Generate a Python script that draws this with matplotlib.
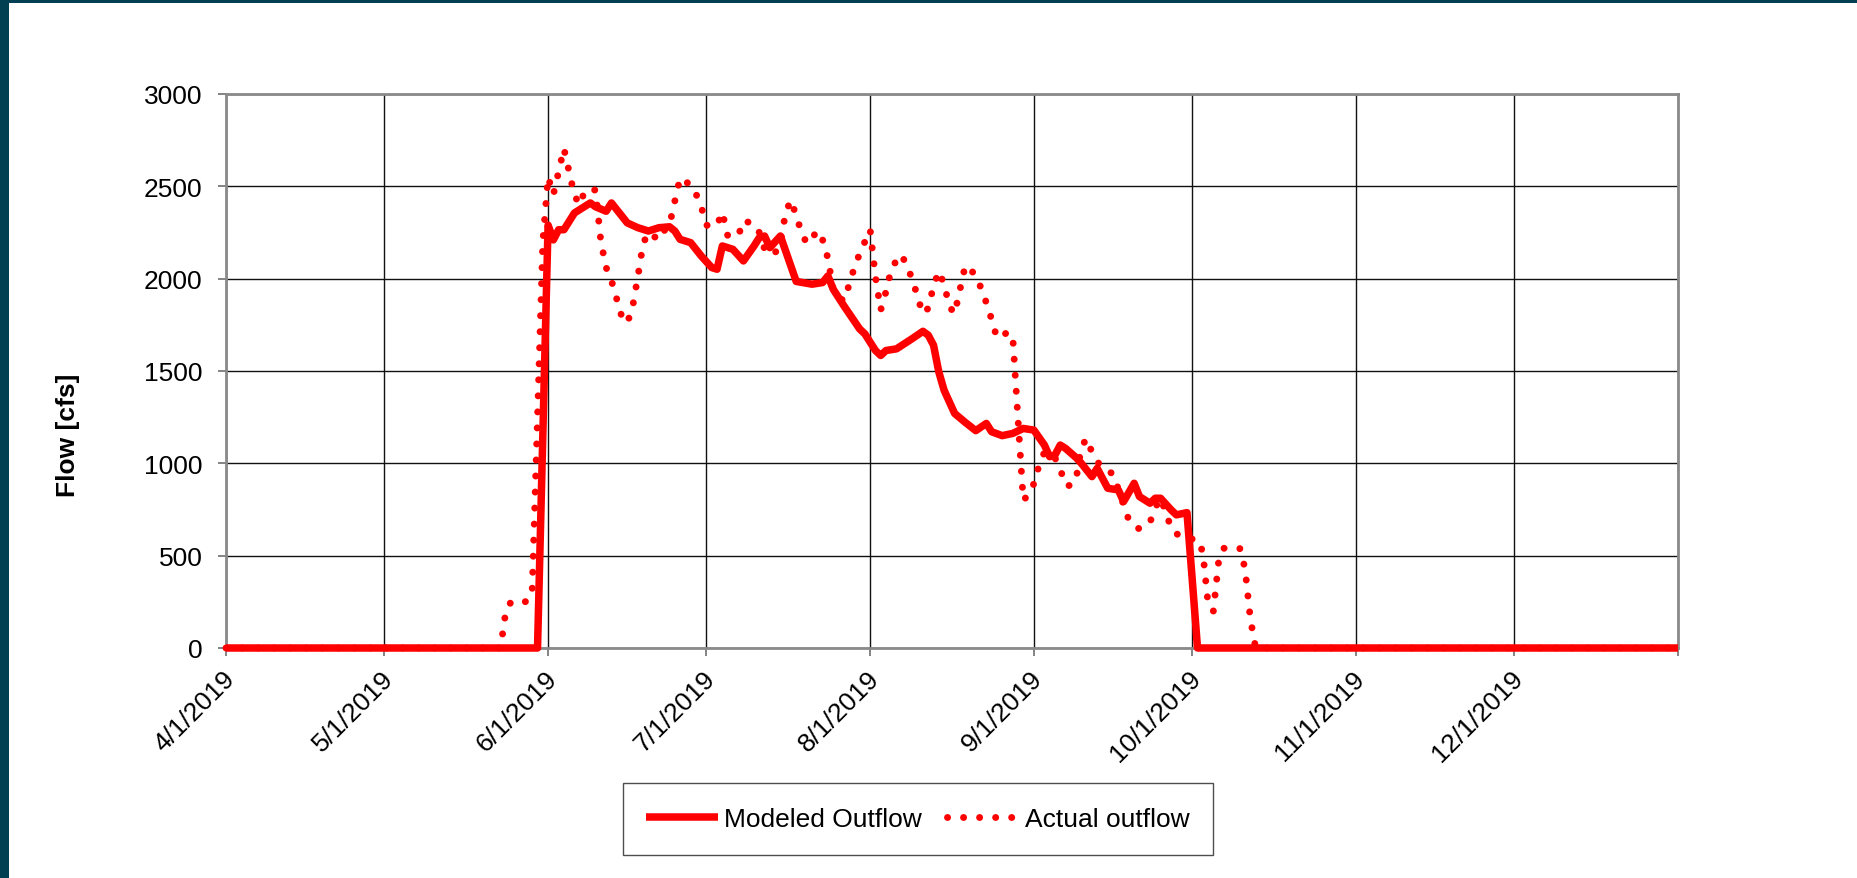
import matplotlib
matplotlib.use("Agg")
import matplotlib.pyplot as plt
import matplotlib.transforms as mtransforms
from matplotlib.patches import Rectangle
import pandas as pd

plt.rcParams["font.family"] = ["Liberation Sans", "DejaVu Sans"]

# modeled outflow (cfs)
model_dates = ["2019-04-01", "2019-05-30", "2019-05-31", "2019-06-01", "2019-06-02", "2019-06-03",
               "2019-06-04", "2019-06-06", "2019-06-09", "2019-06-10", "2019-06-12", "2019-06-13",
               "2019-06-14", "2019-06-16", "2019-06-18", "2019-06-20", "2019-06-22", "2019-06-24",
               "2019-06-25", "2019-06-26", "2019-06-28", "2019-06-30", "2019-07-02", "2019-07-03",
               "2019-07-04", "2019-07-06", "2019-07-08", "2019-07-10", "2019-07-11", "2019-07-12",
               "2019-07-13", "2019-07-15", "2019-07-18", "2019-07-21", "2019-07-23", "2019-07-24",
               "2019-07-25", "2019-07-27", "2019-07-30", "2019-07-31", "2019-08-02", "2019-08-03",
               "2019-08-04", "2019-08-06", "2019-08-09", "2019-08-11", "2019-08-12", "2019-08-13",
               "2019-08-14", "2019-08-15", "2019-08-17", "2019-08-19", "2019-08-21", "2019-08-23",
               "2019-08-24", "2019-08-26", "2019-08-28", "2019-08-30", "2019-09-01", "2019-09-03",
               "2019-09-04", "2019-09-05", "2019-09-06", "2019-09-07", "2019-09-09", "2019-09-10",
               "2019-09-12", "2019-09-13", "2019-09-15", "2019-09-17", "2019-09-18", "2019-09-20",
               "2019-09-21", "2019-09-23", "2019-09-24", "2019-09-25", "2019-09-27", "2019-09-28",
               "2019-09-30", "2019-10-01", "2019-10-02", "2020-01-01"]
model_flow = [0, 0, 1150, 2290, 2210, 2265,
              2265, 2356, 2410, 2389, 2365, 2410,
              2374, 2302, 2276, 2258, 2276, 2281,
              2258, 2213, 2195, 2123, 2060, 2051,
              2177, 2159, 2096, 2177, 2222, 2231,
              2168, 2231, 1985, 1970, 1979, 2015,
              1943, 1854, 1728, 1701, 1611, 1584,
              1611, 1620, 1676, 1715, 1694, 1640,
              1495, 1396, 1270, 1222, 1177, 1216,
              1171, 1150, 1162, 1189, 1180, 1099,
              1036, 1045, 1099, 1081, 1031, 1000,
              928, 973, 865, 856, 793, 892,
              820, 784, 811, 811, 748, 721,
              733, 370, 0, 0]

# actual outflow (daily gauge) (cfs)
actual_dates = ["2019-04-01", "2019-05-23", "2019-05-24", "2019-05-25", "2019-05-28", "2019-05-29",
                "2019-05-30", "2019-05-31", "2019-06-01", "2019-06-02", "2019-06-04", "2019-06-06",
                "2019-06-07", "2019-06-08", "2019-06-10", "2019-06-11", "2019-06-12", "2019-06-13",
                "2019-06-14", "2019-06-15", "2019-06-16", "2019-06-17", "2019-06-18", "2019-06-19",
                "2019-06-20", "2019-06-21", "2019-06-22", "2019-06-23", "2019-06-24", "2019-06-25",
                "2019-06-26", "2019-06-27", "2019-06-28", "2019-06-29", "2019-06-30", "2019-07-01",
                "2019-07-02", "2019-07-03", "2019-07-04", "2019-07-05", "2019-07-06", "2019-07-07",
                "2019-07-08", "2019-07-09", "2019-07-10", "2019-07-11", "2019-07-12", "2019-07-13",
                "2019-07-14", "2019-07-15", "2019-07-16", "2019-07-17", "2019-07-18", "2019-07-19",
                "2019-07-20", "2019-07-21", "2019-07-22", "2019-07-23", "2019-07-24", "2019-07-25",
                "2019-07-26", "2019-07-27", "2019-07-28", "2019-07-29", "2019-07-30", "2019-07-31",
                "2019-08-01", "2019-08-02", "2019-08-03", "2019-08-04", "2019-08-05", "2019-08-06",
                "2019-08-07", "2019-08-08", "2019-08-09", "2019-08-10", "2019-08-11", "2019-08-12",
                "2019-08-13", "2019-08-14", "2019-08-15", "2019-08-16", "2019-08-17", "2019-08-18",
                "2019-08-19", "2019-08-20", "2019-08-21", "2019-08-22", "2019-08-23", "2019-08-24",
                "2019-08-25", "2019-08-26", "2019-08-27", "2019-08-28", "2019-08-29", "2019-08-30",
                "2019-08-31", "2019-09-01", "2019-09-02", "2019-09-03", "2019-09-04", "2019-09-05",
                "2019-09-06", "2019-09-07", "2019-09-08", "2019-09-09", "2019-09-10", "2019-09-11",
                "2019-09-12", "2019-09-13", "2019-09-14", "2019-09-15", "2019-09-16", "2019-09-17",
                "2019-09-18", "2019-09-19", "2019-09-20", "2019-09-21", "2019-09-22", "2019-09-23",
                "2019-09-24", "2019-09-25", "2019-09-26", "2019-09-27", "2019-09-28", "2019-09-29",
                "2019-09-30", "2019-10-01", "2019-10-02", "2019-10-03", "2019-10-04", "2019-10-05",
                "2019-10-06", "2019-10-07", "2019-10-10", "2019-10-11", "2019-10-12", "2019-10-13",
                "2020-01-01"]
actual_flow = [0, 0, 200, 251, 251, 320,
               1250, 2200, 2550, 2455, 2705, 2450,
               2400, 2480, 2480, 2200, 2060, 1990,
               1890, 1790, 1760, 1845, 2010, 2190,
               2250, 2230, 2210, 2260, 2290, 2420,
               2545, 2525, 2510, 2460, 2390, 2290,
               2280, 2290, 2360, 2235, 2230, 2230,
               2315, 2305, 2295, 2250, 2160, 2130,
               2140, 2190, 2360, 2425, 2340, 2250,
               2190, 2220, 2260, 2210, 2110, 1940,
               1900, 1880, 1965, 2060, 2135, 2200,
               2265, 2010, 1830, 1930, 2050, 2100,
               2130, 2060, 2000, 1897, 1810, 1840,
               1960, 2040, 1970, 1850, 1810, 1940,
               2070, 2050, 2015, 1950, 1870, 1780,
               1680, 1690, 1710, 1690, 1240, 800,
               830, 890, 990, 1060, 1060, 1030,
               970, 880, 880, 914, 1087, 1135,
               1060, 1010, 975, 960, 942, 860,
               775, 692, 660, 645, 660, 680,
               760, 811, 735, 649, 620, 598,
               595, 590, 588, 520, 240, 200,
               470, 540, 540, 430, 160, 0,
               0]

tick_dates = ["2019-04-01", "2019-05-01", "2019-06-01", "2019-07-01", "2019-08-01",
              "2019-09-01", "2019-10-01", "2019-11-01", "2019-12-01", "2020-01-01"]
tick_labels = ["4/1/2019", "5/1/2019", "6/1/2019", "7/1/2019", "8/1/2019",
               "9/1/2019", "10/1/2019", "11/1/2019", "12/1/2019", ""]
y_ticks = [0, 500, 1000, 1500, 2000, 2500, 3000]

W, H = 1857, 879
fig = plt.figure(figsize=(W / 100, H / 100), dpi=100)
fig.patch.set_facecolor("white")

# dark slide frame on the left and top edges
fig.add_artist(Rectangle((0, 0), 9 / W, 1, transform=fig.transFigure,
                         facecolor="#023f52", edgecolor="none", zorder=0))
fig.add_artist(Rectangle((0, 1 - 4 / H), 1, 4 / H, transform=fig.transFigure,
                         facecolor="#023f52", edgecolor="none", zorder=0))

ax = fig.add_axes([226 / W, 1 - 649 / H, (1678 - 226) / W, (649 - 95) / H])

act_line, = ax.plot(pd.to_datetime(actual_dates), actual_flow, color="#ff0000", lw=5.0,
                    linestyle=(0, (0.01, 2.3)), dash_capstyle="round",
                    clip_on=False, zorder=3, label="Actual outflow")
mod_line, = ax.plot(pd.to_datetime(model_dates), model_flow, color="#ff0000", lw=5.4,
                    solid_capstyle="butt", solid_joinstyle="round",
                    clip_on=False, zorder=4, label="Modeled Outflow")

ax.set_xlim(pd.Timestamp("2019-04-01"), pd.Timestamp("2020-01-01"))
ax.set_ylim(0, 3000)
ax.set_yticks(y_ticks)
ax.set_xticks(pd.to_datetime(tick_dates))
ax.set_xticklabels(tick_labels)

ax.grid(True, color="#111111", lw=1.0, zorder=1)
ax.set_axisbelow(True)
for s in ax.spines.values():
    s.set_color("#8a8a8a")
    s.set_linewidth(2)

ax.tick_params(axis="both", direction="out", length=6, width=1.3, color="#7a7a7a",
               labelsize=19, labelcolor="black")
ax.tick_params(axis="y", pad=11)
ax.tick_params(axis="x", pad=13)

shift = mtransforms.ScaledTranslation(5 / 100, 0, fig.dpi_scale_trans)
for lab in ax.get_xticklabels():
    lab.set_rotation(45)
    lab.set_ha("right")
    lab.set_va("center")
    lab.set_rotation_mode("anchor")
    lab.set_transform(lab.get_transform() + shift)

fig.text(68 / W, 1 - 435 / H, "Flow [cfs]", rotation=90, fontsize=19,
         fontweight="bold", ha="center", va="center")

leg = fig.legend(handles=[mod_line, act_line], labels=["Modeled Outflow", "Actual outflow"],
                 loc="center", bbox_to_anchor=(918 / W, 1 - 820 / H), ncol=2,
                 fontsize=19, frameon=True, fancybox=False, edgecolor="#222222",
                 handlelength=2.7, handletextpad=0.25, columnspacing=0.95, borderpad=0.9)
leg.get_frame().set_linewidth(1.0)

fig.savefig("out.png", dpi=100, facecolor="white")
